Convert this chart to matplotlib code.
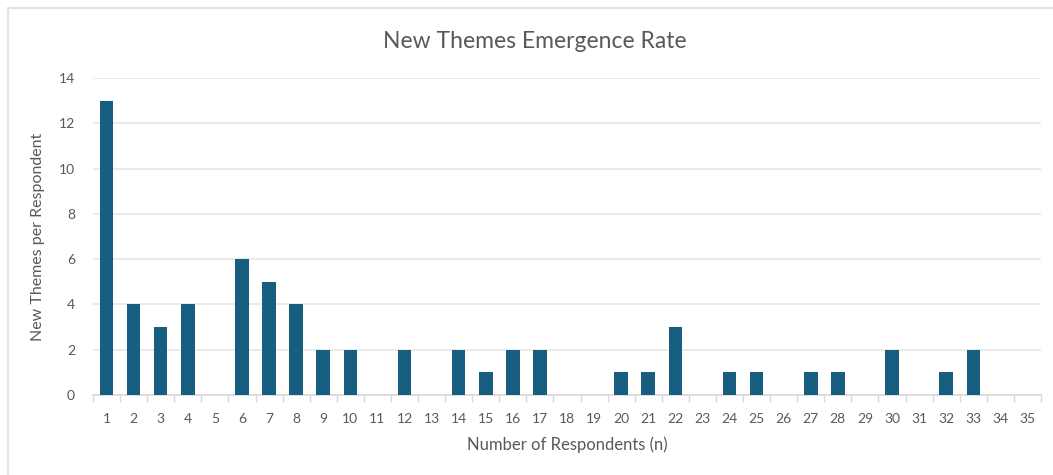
import matplotlib.pyplot as plt
from matplotlib.patches import Rectangle

# data
respondents = list(range(1, 36))
new_themes = [13, 4, 3, 4, 0, 6, 5, 4, 2, 2, 0, 2, 0, 2, 1, 2, 2, 0, 0, 1,
              1, 3, 0, 1, 1, 0, 1, 1, 0, 2, 0, 1, 2, 0, 0]
y_ticks = [0, 2, 4, 6, 8, 10, 12, 14]

plt.rcParams['font.family'] = ['Lato', 'DejaVu Sans']

fig = plt.figure(figsize=(10.53, 4.75), dpi=100)
# light chart-area border (top/left visible, rest cropped)
fig.patches.append(Rectangle((8 / 1053, -0.1), 1.2, 1 - 8 / 475 + 0.1,
                             transform=fig.transFigure, fill=False,
                             edgecolor='#e3e3e3', linewidth=1.5))

ax = fig.add_axes([93 / 1053, 1 - 395 / 475, (1041 - 93) / 1053, (395 - 78) / 475])
x = list(range(len(respondents)))
ax.bar(x, new_themes, width=0.5, color='#175e80', zorder=3)

ax.set_xlim(-0.5, len(respondents) - 0.5)
ax.set_ylim(0, 14)
ax.set_yticks(y_ticks)
ax.set_xticks(x)
ax.set_xticklabels([str(r) for r in respondents])
# category boundary ticks like Excel
ax.set_xticks([i - 0.5 for i in range(len(respondents) + 1)], minor=True)
ax.tick_params(axis='x', which='major', length=0, pad=13, labelsize=10, colors='#595959')
ax.tick_params(axis='x', which='minor', length=5, color='#d9d9d9', width=1)
ax.tick_params(axis='y', length=0, pad=13, labelsize=10, colors='#595959')

ax.grid(axis='y', color='#e6e6e6', linewidth=1.2, zorder=0)
for s in ['top', 'right', 'left']:
    ax.spines[s].set_visible(False)
ax.spines['bottom'].set_color('#d9d9d9')
ax.spines['bottom'].set_linewidth(1.2)

ax.set_xlabel('Number of Respondents (n)', fontsize=12, color='#595959', labelpad=8)
ax.set_ylabel('New Themes per Respondent', fontsize=11.5, color='#595959', labelpad=10)
fig.text(535 / 1053, 1 - 42 / 475, 'New Themes Emergence Rate', ha='center', va='center',
         fontsize=16.5, color='#595959')

fig.savefig('out.png', dpi=100)
